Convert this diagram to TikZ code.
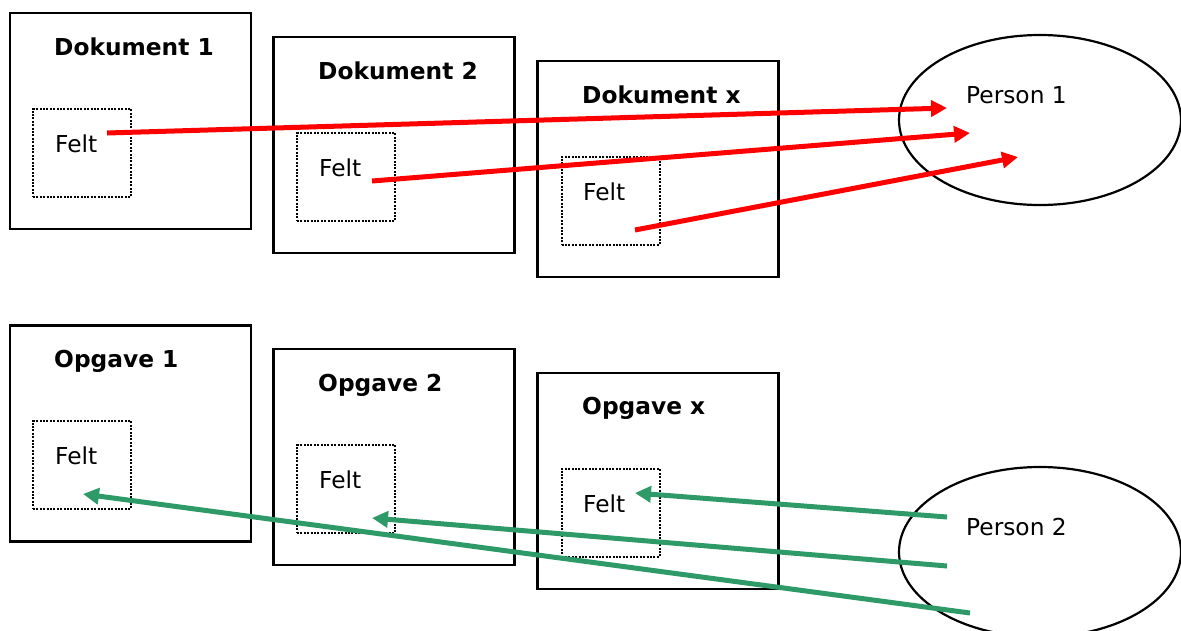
\documentclass[tikz,border=0pt]{standalone}
\usepackage{fontspec}
\setmainfont{DejaVu Sans}
\usetikzlibrary{arrows.meta,shapes.geometric}
\definecolor{arrred}{RGB}{255,0,0}
\definecolor{arrgreen}{RGB}{46,154,104}
\begin{document}
\begin{tikzpicture}[x=1pt,y=-1pt,
  docbox/.style={draw=black,line width=2.2pt,minimum width=241pt,minimum height=216pt,inner sep=0pt},
  feltbox/.style={draw=black,line width=2pt,dash pattern=on 2pt off 1.4pt,minimum width=98pt,minimum height=88pt,inner sep=0pt},
  title/.style={anchor=base west,inner sep=0pt,font=\fontsize{23.3}{28}\selectfont\bfseries},
  lbl/.style={anchor=base west,inner sep=0pt,font=\fontsize{23.3}{28}\selectfont},
  person/.style={draw=black,line width=2.2pt,ellipse,minimum width=282pt,minimum height=170pt,inner sep=0pt},
  redarrow/.style={draw=arrred,line width=5pt,-{Triangle[length=16pt,width=16pt]}},
  greenarrow/.style={draw=arrgreen,line width=5pt,-{Triangle[length=16pt,width=16pt]}}]
\useasboundingbox (0,0) rectangle (1181,630);
% ellipses
\node[person] (p1) at (1040,120) {};
\node[person] (p2) at (1040,552) {};
\node[lbl] (p1t) at (966,103) {Person 1};
\node[lbl] (p2t) at (966,535) {Person 2};
% document boxes
\node[docbox] (d1) at (130.5,121) {};
\node[docbox] (d2) at (394,145) {};
\node[docbox] (dx) at (658,169) {};
\node[feltbox] (fd1) at (82,153) {};
\node[feltbox] (fd2) at (346,177) {};
\node[feltbox] (fdx) at (610.5,201) {};
\node[title] (td1) at (54,55) {Dokument 1};
\node[title] (td2) at (318,79) {Dokument 2};
\node[title] (tdx) at (582,103) {Dokument x};
\node[lbl] (ld1) at (55,152) {Felt};
\node[lbl] (ld2) at (319,176) {Felt};
\node[lbl] (ldx) at (583,200) {Felt};
% task boxes
\node[docbox] (o1) at (130.5,433.5) {};
\node[docbox] (o2) at (394,457) {};
\node[docbox] (ox) at (658,481) {};
\node[feltbox] (fo1) at (82,465) {};
\node[feltbox] (fo2) at (346,489) {};
\node[feltbox] (fox) at (610.5,513) {};
\node[title] (to1) at (54,367) {Opgave 1};
\node[title] (to2) at (318,391) {Opgave 2};
\node[title] (tox) at (582,414) {Opgave x};
\node[lbl] (lo1) at (55,464) {Felt};
\node[lbl] (lo2) at (319,488) {Felt};
\node[lbl] (lox) at (583,512) {Felt};
% connector end points
\coordinate (rs1) at (107,133);
\coordinate (rs2) at (372,181);
\coordinate (rs3) at (635,230);
\coordinate (re1) at (947,108);
\coordinate (re2) at (970,133);
\coordinate (re3) at (1018,157);
\coordinate (gs1) at (947,517);
\coordinate (gs2) at (947,566);
\coordinate (gs3) at (970,613);
\coordinate (ge1) at (635,493);
\coordinate (ge2) at (372,518);
\coordinate (ge3) at (83,494);
% arrows
\draw[redarrow] (rs1) -- (re1);
\draw[redarrow] (rs2) -- (re2);
\draw[redarrow] (rs3) -- (re3);
\draw[greenarrow] (gs1) -- (ge1);
\draw[greenarrow] (gs2) -- (ge2);
\draw[greenarrow] (gs3) -- (ge3);
\end{tikzpicture}
\end{document}
